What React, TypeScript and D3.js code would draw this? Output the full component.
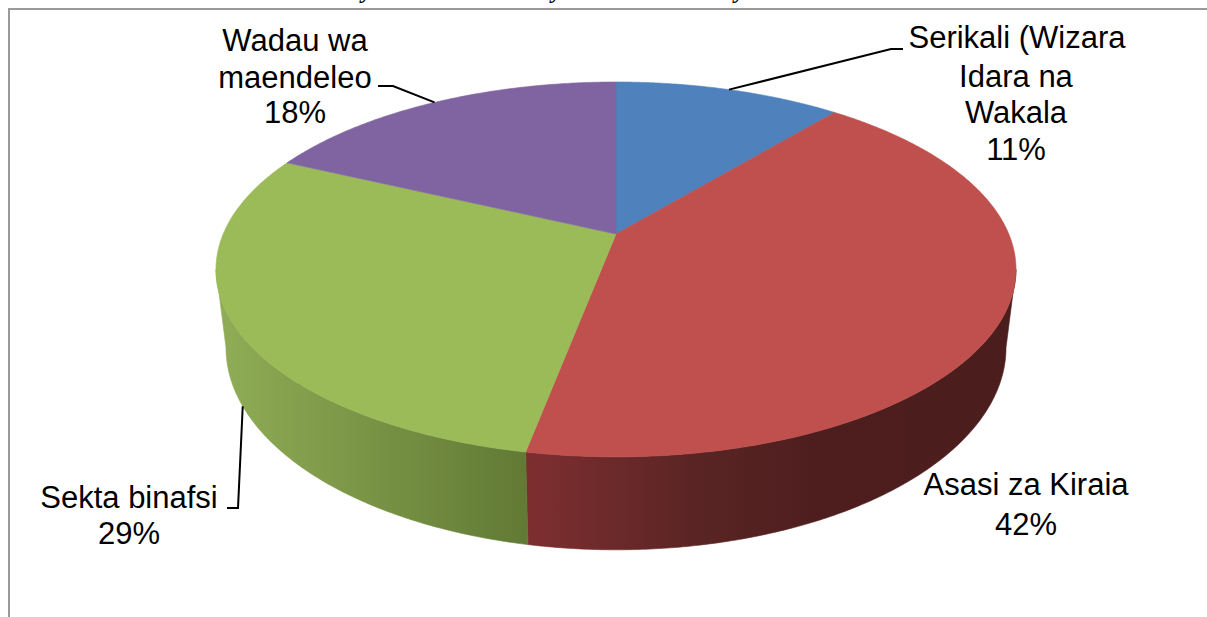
import React, { useEffect, useRef } from 'react';
import * as d3 from 'd3';

// slice data, clockwise from 12 o'clock
const categories = ['Serikali (Wizara Idara na Wakala', 'Asasi za Kiraia', 'Sekta binafsi', 'Wadau wa maendeleo'];
const shares = [11, 42, 29, 18];
const pctLabels = ['11%', '42%', '29%', '18%'];
const labelLines = [
  ['Serikali (Wizara', 'Idara na', 'Wakala'],
  ['Asasi za Kiraia'],
  ['Sekta binafsi'],
  ['Wadau wa', 'maendeleo'],
];
const topColors = ['#4f81bd', '#c0504d', '#9bbb59', '#8064a2'];
const sideStops: [number, string][][] = [
  [[0, '#3d6594'], [1, '#2c4a6e']],
  [[0, '#8a3436'], [0.4, '#7c2e2f'], [0.6, '#5a2424'], [0.75, '#4e1e1e'], [1, '#4b1d1d']],
  [[0, '#90ad56'], [0.4, '#607833'], [1, '#4f632a']],
  [[0, '#6a5488'], [1, '#4f3e66']],
];

const W = 1207;
const H = 617;

// perspective ellipse fitted to the picture
const cx = 616;
const cy = 234;
const persp = 0.189;
const rx = 392.8;
const ry = -136.5;
const depth = 75.4;
const bottomShrink = 0.975;

// label layout: text line positions, leader elbows
const labelLayout = [
  { lines: [[1017, 48], [1016, 87], [1016, 123], [1016, 160]], leader: [[903, 49], [891, 49]], bottom: false },
  { lines: [[1026, 495], [1026, 535]], leader: null, bottom: false },
  { lines: [[129, 508], [129, 544]], leader: [[227, 508], [238, 508]], bottom: true },
  { lines: [[295, 51], [295, 88], [295, 123]], leader: [[378, 86], [393, 86]], bottom: false },
];

function proj(theta: number, bottom = false): [number, number] {
  const u = Math.sin(theta);
  const v = Math.cos(theta);
  const w = 1 + persp * v;
  let x = cx + (rx * u) / w;
  let y = (ry * v + cy) / w;
  if (bottom) {
    x = cx + (x - cx) * bottomShrink;
    y += depth / w;
  }
  return [x, y];
}

const App: React.FC = () => {
  const svgRef = useRef<SVGSVGElement>(null);

  useEffect(() => {
    if (!svgRef.current) return;
    const svg = d3.select(svgRef.current);
    svg.selectAll('*').remove();

    const defs = svg.append('defs');
    sideStops.forEach((stops, i) => {
      const g = defs.append('linearGradient')
        .attr('id', 'side' + i)
        .attr('gradientUnits', 'userSpaceOnUse')
        .attr('x1', 216).attr('x2', 1016).attr('y1', 0).attr('y2', 0);
      stops.forEach(s => g.append('stop').attr('offset', s[0]).attr('stop-color', s[1]));
    });

    // frame (only top and left edges fall inside the picture)
    svg.append('rect')
      .attr('x', 9).attr('y', 9)
      .attr('width', W + 20).attr('height', H + 20)
      .attr('fill', '#fff')
      .attr('stroke', '#9a9a9a')
      .attr('stroke-width', 2);

    // clipped title descenders
    [367, 557, 740].forEach(x => {
      svg.append('text')
        .attr('x', x).attr('y', -2)
        .attr('text-anchor', 'middle')
        .style('font-family', '"Liberation Serif", serif')
        .style('font-weight', 'bold').style('font-style', 'italic')
        .style('font-size', '24px')
        .attr('fill', '#000')
        .text('y');
    });

    const arcs = d3.pie<number>().sort(null).value(d => d)
      .startAngle(0).endAngle(2 * Math.PI)(shares);

    const line = d3.line();
    const step = Math.PI / 360;
    const sample = (a: number, b: number, bottom: boolean) => {
      const pts: [number, number][] = [];
      const n = Math.max(2, Math.ceil((b - a) / step));
      for (let k = 0; k <= n; k++) pts.push(proj(a + ((b - a) * k) / n, bottom));
      return pts;
    };

    // outer wall (front part only)
    const visA = Math.acos(-persp);
    const visB = 2 * Math.PI - visA;
    arcs.forEach((d, i) => {
      const s = Math.max(d.startAngle, visA);
      const e = Math.min(d.endAngle, visB);
      if (e <= s) return;
      const pts = sample(s, e, false).concat(sample(s, e, true).reverse());
      svg.append('path')
        .attr('d', line(pts) + 'Z')
        .attr('fill', `url(#side${i})`)
        .attr('stroke', `url(#side${i})`)
        .attr('stroke-width', 0.6);
    });

    // top faces
    arcs.forEach((d, i) => {
      const pts = [[cx, cy] as [number, number]].concat(sample(d.startAngle, d.endAngle, false));
      svg.append('path')
        .attr('d', line(pts) + 'Z')
        .attr('fill', topColors[i])
        .attr('stroke', topColors[i])
        .attr('stroke-width', 0.6);
    });

    // labels and leaders
    arcs.forEach((d, i) => {
      const lay = labelLayout[i];
      const texts = labelLines[i].concat([pctLabels[i]]);
      texts.forEach((t, j) => {
        const [x, y] = lay.lines[j];
        svg.append('text')
          .attr('x', x).attr('y', y)
          .attr('text-anchor', 'middle')
          .style('font-family', '"Liberation Sans", Arial, sans-serif')
          .style('font-size', '31px')
          .attr('fill', '#000')
          .text(t);
      });
      if (lay.leader) {
        const mid = (d.startAngle + d.endAngle) / 2;
        const end = proj(mid, lay.bottom);
        const pts = (lay.leader as [number, number][]).concat([end]);
        svg.append('path')
          .attr('d', line(pts))
          .attr('fill', 'none')
          .attr('stroke', '#000')
          .attr('stroke-width', 2);
      }
    });
  }, []);

  return (
    <svg
      ref={svgRef}
      width={W}
      height={H}
      style={{ position: 'absolute', left: 0, top: 0, background: '#fff' }}
      aria-label={categories.join(', ')}
    />
  );
};

export default App;
